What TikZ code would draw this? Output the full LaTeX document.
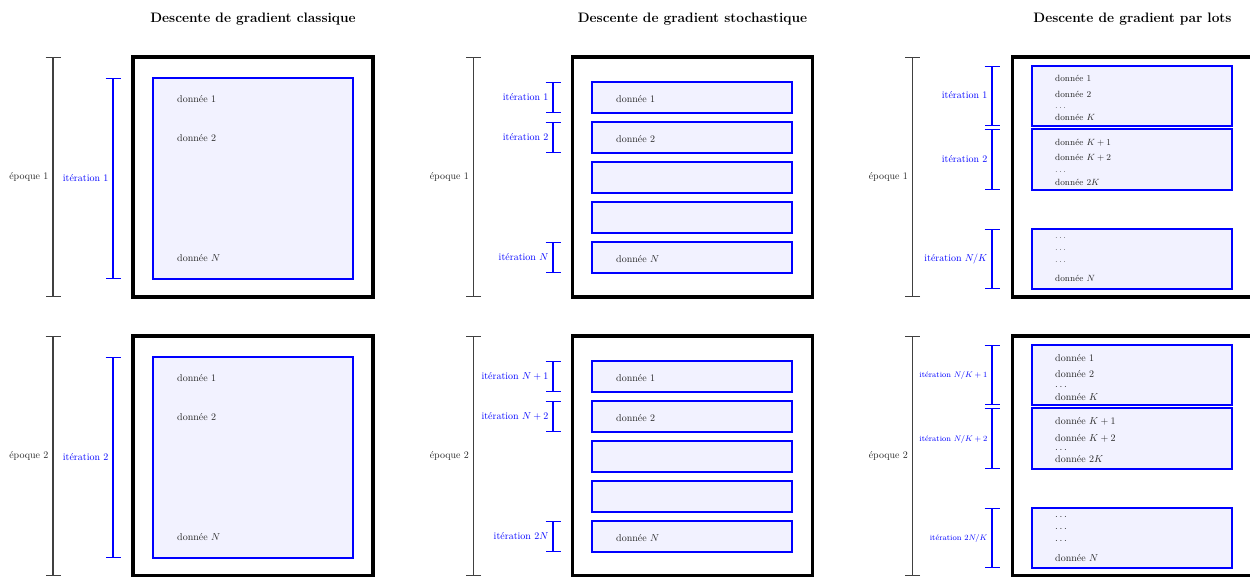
\documentclass[tikz,border=0pt]{standalone}
\usepackage{amsmath}
\usepackage{tikz}
\usetikzlibrary{
  arrows.meta,
  positioning,
  calc
}

\begin{document}
\begin{tikzpicture}[
    x=1pt, y=-1pt,
    frame/.style={draw=black, line width=3.2pt, minimum width=240pt,
                  minimum height=240pt, inner sep=0pt, outer sep=0pt},
    batch/.style={draw=blue, fill=blue!5, line width=2pt,
                  minimum width=200pt, inner sep=0pt, outer sep=0pt},
    datum/.style={anchor=base west, inner sep=0pt, text=black!85},
    epochbar/.style={draw=black!75, line width=1.1pt,
                     {Bar[width=15pt]}-{Bar[width=15pt]}},
    iterbar/.style={draw=blue, line width=1.1pt,
                    {Bar[width=15pt]}-{Bar[width=15pt]}},
    epochlbl/.style={left=4pt, inner sep=0pt, text=black!85,
                     text height=1.5ex, text depth=.25ex},
    iterlbl/.style={left=4pt, inner sep=0pt, text=blue,
                    text height=1.5ex, text depth=.25ex},
    titlelbl/.style={anchor=base, inner sep=0pt,
                     font=\fontsize{13.7}{16}\selectfont\bfseries}
  ]
  \useasboundingbox (0,0) rectangle (1250,576);

  %% ---------------- Titles
  \node[frame] (fa1) at (253,177) {};
  \node[frame] (fb1) at (692.5,177) {};
  \node[frame] (fc1) at (1132.5,177) {};
  \node[titlelbl] (ta) at ([yshift=35pt]fa1.north) {Descente de gradient classique};
  \node[titlelbl] (tb) at ([yshift=35pt]fb1.north) {Descente de gradient stochastique};
  \node[titlelbl] (tc) at ([yshift=35pt]fc1.north) {Descente de gradient par lots};

  %% ================ Row 1 (epoch 1)
  %% Classic
  \node[batch, minimum height=201pt] (ca1) at (253,178.5) {};
  \node[datum] (ca1d1) at ([xshift=24pt,yshift=-24pt]ca1.north west) {donnée 1};
  \node[datum] (ca1d2) at ([xshift=24pt,yshift=-63pt]ca1.north west) {donnée 2};
  \node[datum] (ca1dN) at ([xshift=24pt,yshift=-183pt]ca1.north west) {donnée $N$};
  \draw[epochbar] ([xshift=-80pt]fa1.north west) --
    node[epochlbl] (ea1) {époque 1} ([xshift=-80pt]fa1.south west);
  \draw[iterbar] ([xshift=-40pt]ca1.north west) --
    node[iterlbl] (ia1) {itération 1} ([xshift=-40pt]ca1.south west);

  %% Stochastic
  \foreach \i/\y in {1/97.5, 2/137.5, 3/177.5, 4/217.5, 5/257.5}
    \node[batch, minimum height=31pt] (sb1\i) at (692,\y) {};
  \node[datum] (sb1d1) at ([xshift=24pt,yshift=-4.5pt]sb11.west) {donnée 1};
  \node[datum] (sb1d2) at ([xshift=24pt,yshift=-4.5pt]sb12.west) {donnée 2};
  \node[datum] (sb1dN) at ([xshift=24pt,yshift=-4.5pt]sb15.west) {donnée $N$};
  \draw[epochbar] ([xshift=-99pt]fb1.north west) --
    node[epochlbl] (eb1) {époque 1} ([xshift=-99pt]fb1.south west);
  \draw[iterbar] ([xshift=-39pt]sb11.north west) --
    node[iterlbl] (ib11) {itération 1} ([xshift=-39pt]sb11.south west);
  \draw[iterbar] ([xshift=-39pt]sb12.north west) --
    node[iterlbl] (ib12) {itération 2} ([xshift=-39pt]sb12.south west);
  \draw[iterbar] ([xshift=-39pt]sb15.north west) --
    node[iterlbl] (ib15) {itération $N$} ([xshift=-39pt]sb15.south west);

  %% Mini-batch
  \node[batch, minimum height=60pt] (bc11) at (1132,96) {};
  \node[batch, minimum height=61pt] (bc12) at (1132,159.5) {};
  \node[batch, minimum height=60pt] (bc13) at (1132,259) {};
  \begin{scope}[every node/.append style={font=\small}]
    \node[datum] (bc11a) at ([xshift=23pt,yshift=-15pt]bc11.north west) {donnée 1};
    \node[datum] (bc11b) at ([xshift=23pt,yshift=-31pt]bc11.north west) {donnée 2};
    \node[datum] (bc11c) at ([xshift=23pt,yshift=-42pt]bc11.north west) {$\ldots$};
    \node[datum] (bc11d) at ([xshift=23pt,yshift=-54pt]bc11.north west) {donnée $K$};
    \node[datum] (bc12a) at ([xshift=23pt,yshift=-16pt]bc12.north west) {donnée $K+1$};
    \node[datum] (bc12b) at ([xshift=23pt,yshift=-31pt]bc12.north west) {donnée $K+2$};
    \node[datum] (bc12c) at ([xshift=23pt,yshift=-43pt]bc12.north west) {$\ldots$};
    \node[datum] (bc12d) at ([xshift=23pt,yshift=-56pt]bc12.north west) {donnée $2K$};
    \node[datum] (bc13a) at ([xshift=23pt,yshift=-9pt]bc13.north west) {$\ldots$};
    \node[datum] (bc13b) at ([xshift=23pt,yshift=-21pt]bc13.north west) {$\ldots$};
    \node[datum] (bc13c) at ([xshift=23pt,yshift=-33pt]bc13.north west) {$\ldots$};
    \node[datum] (bc13d) at ([xshift=23pt,yshift=-52pt]bc13.north west) {donnée $N$};
  \end{scope}
  \draw[epochbar] ([xshift=-100pt]fc1.north west) --
    node[epochlbl] (ec1) {époque 1} ([xshift=-100pt]fc1.south west);
  \draw[iterbar] ([xshift=-40pt]bc11.north west) --
    node[iterlbl] (ic11) {itération 1} ([xshift=-40pt]bc11.south west);
  \draw[iterbar] ([xshift=-40pt]bc12.north west) --
    node[iterlbl] (ic12) {itération 2} ([xshift=-40pt]bc12.south west);
  \draw[iterbar] ([xshift=-40pt]bc13.north west) --
    node[iterlbl] (ic13) {itération $N/K$} ([xshift=-40pt]bc13.south west);

  %% ================ Row 2 (epoch 2)
  \node[frame] (fa2) at (253,456) {};
  \node[frame] (fb2) at (692.5,456) {};
  \node[frame] (fc2) at (1132.5,456) {};

  %% Classic
  \node[batch, minimum height=201pt] (ca2) at (253,457.5) {};
  \node[datum] (ca2d1) at ([xshift=24pt,yshift=-24pt]ca2.north west) {donnée 1};
  \node[datum] (ca2d2) at ([xshift=24pt,yshift=-63pt]ca2.north west) {donnée 2};
  \node[datum] (ca2dN) at ([xshift=24pt,yshift=-183pt]ca2.north west) {donnée $N$};
  \draw[epochbar] ([xshift=-80pt]fa2.north west) --
    node[epochlbl] (ea2) {époque 2} ([xshift=-80pt]fa2.south west);
  \draw[iterbar] ([xshift=-40pt]ca2.north west) --
    node[iterlbl] (ia2) {itération 2} ([xshift=-40pt]ca2.south west);

  %% Stochastic
  \foreach \i/\y in {1/376.5, 2/416.5, 3/456.5, 4/496.5, 5/536.5}
    \node[batch, minimum height=31pt] (sb2\i) at (692,\y) {};
  \node[datum] (sb2d1) at ([xshift=24pt,yshift=-4.5pt]sb21.west) {donnée 1};
  \node[datum] (sb2d2) at ([xshift=24pt,yshift=-4.5pt]sb22.west) {donnée 2};
  \node[datum] (sb2dN) at ([xshift=24pt,yshift=-4.5pt]sb25.west) {donnée $N$};
  \draw[epochbar] ([xshift=-99pt]fb2.north west) --
    node[epochlbl] (eb2) {époque 2} ([xshift=-99pt]fb2.south west);
  \draw[iterbar] ([xshift=-39pt]sb21.north west) --
    node[iterlbl] (ib21) {itération $N+1$} ([xshift=-39pt]sb21.south west);
  \draw[iterbar] ([xshift=-39pt]sb22.north west) --
    node[iterlbl] (ib22) {itération $N+2$} ([xshift=-39pt]sb22.south west);
  \draw[iterbar] ([xshift=-39pt]sb25.north west) --
    node[iterlbl] (ib25) {itération $2N$} ([xshift=-39pt]sb25.south west);

  %% Mini-batch
  \node[batch, minimum height=60pt] (bc21) at (1132,375) {};
  \node[batch, minimum height=61pt] (bc22) at (1132,438.5) {};
  \node[batch, minimum height=60pt] (bc23) at (1132,538) {};
  \node[datum] (bc21a) at ([xshift=23pt,yshift=-16pt]bc21.north west) {donnée 1};
  \node[datum] (bc21b) at ([xshift=23pt,yshift=-32pt]bc21.north west) {donnée 2};
  \node[datum] (bc21c) at ([xshift=23pt,yshift=-42pt]bc21.north west) {$\ldots$};
  \node[datum] (bc21d) at ([xshift=23pt,yshift=-55pt]bc21.north west) {donnée $K$};
  \node[datum] (bc22a) at ([xshift=23pt,yshift=-16pt]bc22.north west) {donnée $K+1$};
  \node[datum] (bc22b) at ([xshift=23pt,yshift=-33pt]bc22.north west) {donnée $K+2$};
  \node[datum] (bc22c) at ([xshift=23pt,yshift=-42pt]bc22.north west) {$\ldots$};
  \node[datum] (bc22d) at ([xshift=23pt,yshift=-54pt]bc22.north west) {donnée $2K$};
  \node[datum] (bc23a) at ([xshift=23pt,yshift=-9pt]bc23.north west) {$\ldots$};
  \node[datum] (bc23b) at ([xshift=23pt,yshift=-21pt]bc23.north west) {$\ldots$};
  \node[datum] (bc23c) at ([xshift=23pt,yshift=-33pt]bc23.north west) {$\ldots$};
  \node[datum] (bc23d) at ([xshift=23pt,yshift=-53pt]bc23.north west) {donnée $N$};
  \draw[epochbar] ([xshift=-100pt]fc2.north west) --
    node[epochlbl] (ec2) {époque 2} ([xshift=-100pt]fc2.south west);
  \begin{scope}[every node/.append style={font=\footnotesize}]
    \draw[iterbar] ([xshift=-40pt]bc21.north west) --
      node[iterlbl] (ic21) {itération $N/K+1$} ([xshift=-40pt]bc21.south west);
    \draw[iterbar] ([xshift=-40pt]bc22.north west) --
      node[iterlbl] (ic22) {itération $N/K+2$} ([xshift=-40pt]bc22.south west);
    \draw[iterbar] ([xshift=-40pt]bc23.north west) --
      node[iterlbl] (ic23) {itération $2N/K$} ([xshift=-40pt]bc23.south west);
  \end{scope}

\end{tikzpicture}
\end{document}
